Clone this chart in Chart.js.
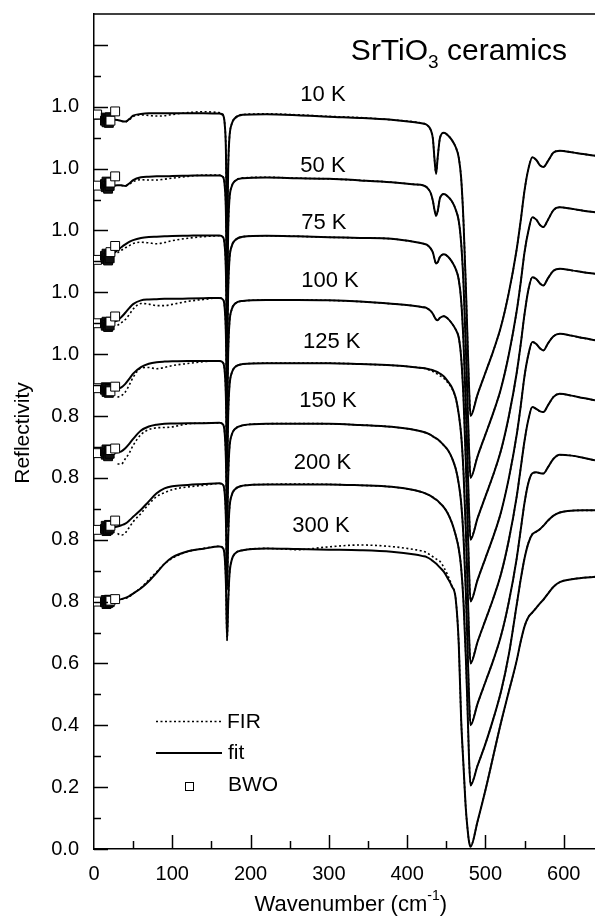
<!DOCTYPE html>
<html>
<head>
<meta charset="utf-8">
<script src="https://cdn.jsdelivr.net/npm/chart.js@4.4.0/dist/chart.umd.min.js"></script>
<style>html,body{margin:0;padding:0;background:#fff}canvas{display:block}</style>
</head>
<body>
<canvas id="chart" width="595" height="917"></canvas>
<script>
const FONT="'Liberation Sans', Arial, Helvetica, sans-serif";

// temperatures, top curve first, and the vertical shift each spectrum got
const temps=["10 K","50 K","75 K","100 K","125 K","150 K","200 K","300 K"];
const offsets=[1.4,1.2,1.0,0.8,0.6,0.4,0.2,0.0];

// wavenumber grid (cm-1) the curves were read on
const wn=[0,10,20,30,35,40,45,50,60,70,
  80,90,100,120,140,160,165,167,168.5,170,
  171.5,173,176,180,190,220,260,300,340,380,
  410,420,425,430,433,435,437,439,442,447,
  452,457,462,466,469,472,475,477,479,481,
  490,500,510,520,530,540,545,550,555,560,
  565,570,574,580,587,595,610,625,640];

// fitted reflectivity
const fit10=[0.961,0.962,0.960,0.957,0.954,0.952,0.960,0.971,0.977,0.979,
  0.979,0.979,0.979,0.979,0.979,0.978,0.972,0.943,0.860,0.560,
  0.810,0.900,0.945,0.963,0.974,0.976,0.973,0.968,0.964,0.958,
  0.950,0.946,0.942,0.926,0.895,0.830,0.783,0.835,0.900,0.916,
  0.908,0.893,0.870,0.835,0.770,0.630,0.420,0.260,0.100,0.000,
  0.070,0.140,0.210,0.290,0.400,0.540,0.630,0.730,0.800,0.837,
  0.828,0.810,0.805,0.825,0.852,0.858,0.853,0.847,0.842];
const fit50=[0.940,0.942,0.944,0.946,0.946,0.944,0.952,0.963,0.972,0.974,
  0.975,0.975,0.976,0.977,0.978,0.978,0.972,0.943,0.860,0.560,
  0.810,0.900,0.943,0.960,0.969,0.971,0.969,0.967,0.962,0.956,
  0.949,0.946,0.940,0.922,0.895,0.866,0.848,0.862,0.905,0.918,
  0.910,0.895,0.868,0.830,0.760,0.630,0.420,0.260,0.100,0.000,
  0.070,0.140,0.210,0.290,0.400,0.540,0.630,0.730,0.800,0.843,
  0.835,0.817,0.811,0.835,0.866,0.875,0.870,0.864,0.859];
const fit75=[0.903,0.908,0.918,0.936,0.946,0.955,0.963,0.969,0.976,0.979,
  0.980,0.981,0.982,0.983,0.984,0.984,0.978,0.949,0.865,0.600,
  0.815,0.905,0.950,0.968,0.980,0.983,0.981,0.978,0.976,0.973,
  0.963,0.958,0.954,0.942,0.928,0.908,0.893,0.897,0.915,0.923,
  0.916,0.900,0.876,0.840,0.775,0.640,0.430,0.270,0.100,0.000,
  0.070,0.140,0.210,0.290,0.400,0.540,0.630,0.730,0.810,0.849,
  0.843,0.828,0.822,0.846,0.870,0.876,0.871,0.865,0.860];
const fit100=[0.899,0.899,0.901,0.909,0.920,0.934,0.949,0.962,0.974,0.977,
  0.978,0.979,0.979,0.980,0.981,0.982,0.976,0.947,0.862,0.600,
  0.812,0.900,0.945,0.963,0.972,0.975,0.975,0.974,0.970,0.963,
  0.956,0.952,0.949,0.940,0.930,0.920,0.912,0.910,0.918,0.923,
  0.915,0.900,0.880,0.853,0.790,0.660,0.450,0.280,0.110,0.000,
  0.070,0.140,0.210,0.290,0.400,0.540,0.630,0.730,0.800,0.839,
  0.833,0.818,0.812,0.835,0.858,0.866,0.860,0.852,0.845];
const fit125=[0.889,0.889,0.889,0.889,0.893,0.904,0.920,0.937,0.958,0.969,
  0.974,0.976,0.977,0.978,0.978,0.978,0.972,0.943,0.860,0.620,
  0.810,0.895,0.940,0.958,0.968,0.971,0.971,0.971,0.968,0.964,
  0.958,0.955,0.953,0.950,0.948,0.946,0.944,0.942,0.937,0.928,
  0.912,0.893,0.860,0.805,0.740,0.620,0.430,0.270,0.100,0.000,
  0.070,0.140,0.210,0.290,0.400,0.540,0.630,0.720,0.790,0.829,
  0.823,0.815,0.813,0.835,0.862,0.872,0.866,0.858,0.851];
const fit150=[0.879,0.879,0.880,0.883,0.886,0.896,0.910,0.926,0.953,0.966,
  0.972,0.975,0.976,0.977,0.977,0.978,0.972,0.943,0.860,0.640,
  0.810,0.895,0.940,0.958,0.970,0.975,0.975,0.975,0.971,0.965,
  0.955,0.949,0.945,0.939,0.934,0.931,0.928,0.925,0.918,0.905,
  0.890,0.866,0.830,0.780,0.720,0.610,0.430,0.270,0.100,0.000,
  0.070,0.140,0.210,0.290,0.400,0.540,0.630,0.720,0.785,0.815,
  0.818,0.815,0.814,0.835,0.862,0.875,0.872,0.865,0.857];
const fit200=[0.831,0.833,0.838,0.843,0.847,0.852,0.862,0.874,0.897,0.924,
  0.950,0.966,0.973,0.977,0.980,0.983,0.977,0.948,0.865,0.640,
  0.815,0.900,0.945,0.963,0.975,0.979,0.979,0.979,0.976,0.971,
  0.960,0.953,0.948,0.942,0.937,0.933,0.930,0.926,0.918,0.905,
  0.885,0.856,0.815,0.770,0.710,0.600,0.420,0.270,0.100,0.005,
  0.070,0.140,0.220,0.310,0.430,0.590,0.670,0.740,0.790,0.818,
  0.826,0.835,0.845,0.862,0.878,0.888,0.894,0.895,0.895];
const fit300=[0.799,0.800,0.802,0.805,0.808,0.812,0.818,0.826,0.843,0.866,
  0.893,0.922,0.943,0.963,0.971,0.978,0.972,0.943,0.860,0.675,
  0.800,0.885,0.935,0.955,0.966,0.972,0.970,0.968,0.966,0.961,
  0.952,0.947,0.944,0.937,0.931,0.927,0.923,0.918,0.910,0.896,
  0.875,0.850,0.810,0.660,0.420,0.270,0.130,0.070,0.025,0.007,
  0.090,0.190,0.300,0.410,0.510,0.610,0.670,0.720,0.750,0.765,
  0.780,0.795,0.806,0.826,0.848,0.863,0.872,0.877,0.880];

// measured FIR reflectivity (same grid, none below ~30 cm-1)
const fir10=[null,null,null,null,0.953,0.951,0.958,0.968,0.974,0.972,
  0.970,0.971,0.975,0.981,0.984,0.981,0.974,0.945,0.862,0.560,
  0.810,0.900,0.945,0.963,0.975,0.977,0.974,0.969,0.965,0.958,
  0.951,0.947,0.942,0.926,0.895,0.830,0.785,0.835,0.900,0.916,
  0.908,0.893,0.870,0.835,0.770,0.630,0.420,0.260,0.100,0.005,
  0.070,0.140,0.210,0.290,0.400,0.540,0.630,0.730,0.800,0.837,
  0.828,0.810,0.805,0.825,0.852,0.858,0.853,0.847,0.842];
const fir50=[null,null,null,null,0.945,0.944,0.950,0.958,0.964,0.963,
  0.963,0.966,0.969,0.975,0.979,0.979,0.973,0.944,0.861,0.560,
  0.810,0.900,0.943,0.960,0.970,0.972,0.969,0.967,0.962,0.956,
  0.949,0.946,0.940,0.922,0.895,0.866,0.848,0.862,0.905,0.918,
  0.910,0.895,0.868,0.830,0.760,0.630,0.420,0.260,0.100,0.005,
  0.070,0.140,0.210,0.290,0.400,0.540,0.630,0.730,0.800,0.843,
  0.835,0.817,0.811,0.835,0.866,0.875,0.870,0.864,0.859];
const fir75=[null,null,null,0.928,0.936,0.944,0.951,0.958,0.962,0.960,
  0.957,0.961,0.967,0.975,0.980,0.983,0.977,0.948,0.864,0.600,
  0.815,0.905,0.950,0.968,0.980,0.983,0.981,0.978,0.976,0.973,
  0.963,0.958,0.954,0.942,0.928,0.908,0.893,0.897,0.915,0.923,
  0.916,0.900,0.876,0.840,0.775,0.640,0.430,0.270,0.100,0.005,
  0.070,0.140,0.210,0.290,0.400,0.540,0.630,0.730,0.810,0.849,
  0.843,0.828,0.822,0.846,0.870,0.876,0.871,0.865,0.860];
const fir100=[null,null,null,0.893,0.902,0.912,0.928,0.946,0.964,0.962,
  0.957,0.957,0.961,0.971,0.977,0.982,0.976,0.947,0.862,0.600,
  0.812,0.900,0.945,0.963,0.972,0.975,0.975,0.974,0.970,0.963,
  0.956,0.952,0.949,0.940,0.930,0.920,0.912,0.910,0.918,0.923,
  0.915,0.900,0.880,0.853,0.790,0.660,0.450,0.280,0.110,0.005,
  0.070,0.140,0.210,0.290,0.400,0.540,0.630,0.730,0.800,0.839,
  0.833,0.818,0.812,0.835,0.858,0.866,0.860,0.852,0.845];
const fir125=[null,null,null,0.861,0.866,0.878,0.900,0.925,0.955,0.957,
  0.953,0.957,0.963,0.970,0.976,0.978,0.972,0.943,0.860,0.620,
  0.810,0.895,0.940,0.958,0.968,0.971,0.971,0.971,0.968,0.964,
  0.958,0.955,0.952,0.947,0.944,0.941,0.938,0.935,0.930,0.922,
  0.908,0.890,0.858,0.805,0.740,0.620,0.430,0.270,0.100,0.005,
  0.070,0.140,0.210,0.290,0.400,0.540,0.630,0.720,0.790,0.829,
  0.823,0.815,0.813,0.835,0.862,0.872,0.866,0.858,0.851];
const fir150=[null,null,null,0.845,0.845,0.862,0.880,0.905,0.940,0.956,
  0.962,0.963,0.965,0.975,0.977,0.978,0.972,0.943,0.860,0.640,
  0.810,0.895,0.940,0.958,0.970,0.975,0.976,0.975,0.971,0.965,
  0.955,0.949,0.945,0.939,0.934,0.931,0.928,0.925,0.918,0.905,
  0.890,0.866,0.830,0.780,0.720,0.610,0.430,0.270,0.100,0.005,
  0.070,0.140,0.210,0.290,0.400,0.540,0.630,0.720,0.785,0.815,
  0.818,0.815,0.814,0.835,0.862,0.875,0.872,0.865,0.857];
const fir200=[null,null,null,0.820,0.815,0.822,0.840,0.858,0.885,0.915,
  0.940,0.952,0.962,0.971,0.976,0.982,0.977,0.948,0.865,0.640,
  0.815,0.900,0.945,0.963,0.975,0.979,0.980,0.979,0.976,0.971,
  0.960,0.953,0.948,0.942,0.937,0.933,0.930,0.926,0.918,0.905,
  0.885,0.856,0.815,0.770,0.710,0.600,0.420,0.270,0.100,0.010,
  0.070,0.140,0.220,0.310,0.430,0.590,0.670,0.740,0.790,0.818,
  0.826,0.835,0.845,0.862,0.878,0.888,0.894,0.895,0.895];
const fir300=[null,null,null,null,0.808,0.810,0.816,0.825,0.845,0.870,
  0.896,0.922,0.940,0.962,0.972,0.979,0.973,0.944,0.861,0.675,
  0.800,0.885,0.935,0.955,0.966,0.972,0.968,0.977,0.983,0.978,
  0.968,0.963,0.958,0.950,0.945,0.942,0.938,0.935,0.930,0.910,
  0.885,0.852,0.810,0.660,0.420,0.270,0.130,0.070,0.025,0.010,
  0.090,0.190,0.300,0.410,0.510,0.610,0.670,0.720,0.750,0.765,
  0.780,0.795,0.806,0.826,0.848,0.863,0.872,0.877,0.880];

// BWO points at the low-frequency end
const bwoWn=[4,14,15,16,17,18,19,20,21,27];
const bwo10=[0.975,0.955,0.965,0.950,0.962,0.958,0.948,0.966,0.955,0.985];
const bwo50=[0.945,0.950,0.940,0.958,0.945,0.935,0.952,0.944,0.955,0.975];
const bwo75=[0.905,0.918,0.908,0.925,0.912,0.903,0.920,0.910,0.930,0.950];
const bwo100=[0.900,0.900,0.892,0.905,0.895,0.888,0.900,0.893,0.905,0.922];
const bwo125=[0.890,0.885,0.893,0.878,0.890,0.882,0.875,0.888,0.880,0.895];
const bwo150=[0.880,0.885,0.875,0.892,0.880,0.870,0.888,0.878,0.890,0.895];
const bwo200=[0.832,0.835,0.845,0.828,0.840,0.832,0.848,0.836,0.845,0.862];
const bwo300=[0.800,0.798,0.805,0.792,0.800,0.795,0.806,0.798,0.803,0.808];

// axis ticks: the labels name each shifted curve's own reflectivity
const yTickVals=[0.0,0.2,0.4,0.6,0.8,1.0,1.2,1.4,1.6,1.8,2.0,2.2,2.4];
const yTickText=["0.0","0.2","0.4","0.6","0.8","0.8","0.8","0.8","1.0","1.0","1.0","1.0","1.0"];
const xTickVals=[0,100,200,300,400,500,600];

const fits=[fit10,fit50,fit75,fit100,fit125,fit150,fit200,fit300];
const firs=[fir10,fir50,fir75,fir100,fir125,fir150,fir200,fir300];
const bwos=[bwo10,bwo50,bwo75,bwo100,bwo125,bwo150,bwo200,bwo300];

// where the temperature captions sit (wavenumber, shifted reflectivity)
const captionAt=[[292.5,2.437],[292.5,2.209],[293.7,2.024],[301.4,1.837],
  [303.6,1.641],[298.8,1.448],[291.8,1.249],[289.9,1.044]];

const datasets=[];
temps.forEach((t,k)=>{
  const off=offsets[k];
  datasets.push({
    label:t+" BWO", order:0, showLine:false,
    data:bwoWn.map((w,i)=>({x:w,y:bwos[k][i]+off})),
    pointStyle:"rect", pointRadius:6.3, borderWidth:1,
    borderColor:"#000",
    // the dense middle of the BWO cluster prints as a dark block
    backgroundColor:bwoWn.map((w,i)=>(i===0||i>=bwoWn.length-2)?"#fff":"#111")
  });
  datasets.push({
    label:t+" fit", order:1,
    data:wn.map((w,i)=>({x:w,y:fits[k][i]+off})),
    borderColor:"#000", borderWidth:2, pointRadius:0,
    cubicInterpolationMode:"monotone"
  });
  datasets.push({
    label:t+" FIR", order:1,
    data:wn.map((w,i)=>({x:w,y:firs[k][i]===null?null:firs[k][i]+off})),
    borderColor:"#000", borderWidth:1.6, borderDash:[2,2.5], pointRadius:0,
    cubicInterpolationMode:"monotone", spanGaps:false
  });
});

const decor={
  id:"decor",
  afterDraw(chart){
    const ctx=chart.ctx, xs=chart.scales.x, ys=chart.scales.y, a=chart.chartArea;
    ctx.save();
    ctx.strokeStyle="#000"; ctx.fillStyle="#000"; ctx.lineWidth=1.5;
    // top frame line
    ctx.beginPath(); ctx.moveTo(a.left,a.top); ctx.lineTo(a.right,a.top); ctx.stroke();
    // inward ticks
    for(let i=0;i<=26;i++){
      const py=Math.round(ys.getPixelForValue(i/10))+0.5;
      const len=(i%2===0)?14:7;
      ctx.beginPath(); ctx.moveTo(a.left,py); ctx.lineTo(a.left+len,py); ctx.stroke();
    }
    for(let v=50;v<=600;v+=50){
      const px=Math.round(xs.getPixelForValue(v))+0.5;
      const len=(v%100===0)?14:8;
      ctx.beginPath(); ctx.moveTo(px,a.bottom); ctx.lineTo(px,a.bottom-len); ctx.stroke();
    }
    // temperature captions
    ctx.font="22px "+FONT; ctx.textAlign="center"; ctx.textBaseline="middle";
    temps.forEach((t,k)=>{
      ctx.fillText(t,xs.getPixelForValue(captionAt[k][0]),ys.getPixelForValue(captionAt[k][1]));
    });
    // title with subscript
    ctx.textAlign="left"; ctx.textBaseline="alphabetic";
    const big="30px "+FONT, small="19px "+FONT;
    ctx.font=big; const w1=ctx.measureText("SrTiO").width, w3=ctx.measureText(" ceramics").width;
    ctx.font=small; const w2=ctx.measureText("3").width;
    let tx=567-(w1+w2+w3);
    ctx.font=big; ctx.fillText("SrTiO",tx,60); tx+=w1;
    ctx.font=small; ctx.fillText("3",tx,68); tx+=w2;
    ctx.font=big; ctx.fillText(" ceramics",tx,60);
    // x axis title with superscript
    const f1="22px "+FONT, f2="14px "+FONT;
    ctx.font=f1; const s1=ctx.measureText("Wavenumber (cm").width, s3=ctx.measureText(")").width;
    ctx.font=f2; const s2=ctx.measureText("-1").width;
    let ax=447-(s1+s2+s3);
    ctx.font=f1; ctx.fillText("Wavenumber (cm",ax,911); ax+=s1;
    ctx.font=f2; ctx.fillText("-1",ax,900); ax+=s2;
    ctx.font=f1; ctx.fillText(")",ax,911);
    // y axis title
    ctx.save(); ctx.translate(23,433); ctx.rotate(-Math.PI/2);
    ctx.font="21px "+FONT; ctx.textAlign="center"; ctx.textBaseline="middle";
    ctx.fillText("Reflectivity",0,0); ctx.restore();
    // legend
    ctx.lineWidth=1.6; ctx.setLineDash([2,2.5]);
    ctx.beginPath(); ctx.moveTo(156,721.5); ctx.lineTo(222,721.5); ctx.stroke();
    ctx.setLineDash([]); ctx.lineWidth=2;
    ctx.beginPath(); ctx.moveTo(156,753); ctx.lineTo(222,753); ctx.stroke();
    ctx.lineWidth=1; ctx.strokeRect(185.5,782.5,8,8);
    ctx.font="21px "+FONT; ctx.textBaseline="middle";
    ctx.fillText("FIR",227,722.5); ctx.fillText("fit",228,753); ctx.fillText("BWO",228,785);
    ctx.restore();
  }
};

new Chart(document.getElementById("chart"),{
  type:"line",
  data:{datasets},
  options:{
    responsive:false, animation:false, devicePixelRatio:1,
    layout:{autoPadding:false,padding:{top:14,right:0,left:0,bottom:0}},
    plugins:{legend:{display:false},tooltip:{enabled:false}},
    scales:{
      x:{type:"linear",min:0,max:640,
        afterFit(s){s.height=68; s.paddingLeft=0; s.paddingRight=0;},
        grid:{display:false,drawTicks:false},
        border:{display:true,color:"#000",width:1.5},
        ticks:{stepSize:100,includeBounds:false,autoSkip:false,maxRotation:0,padding:13,
          color:"#000",font:{family:FONT,size:20},
          callback:v=>xTickVals.includes(v)?String(v):""}},
      y:{type:"linear",min:0,max:2.7,
        afterFit(s){s.width=94; s.paddingTop=0; s.paddingBottom=0;},
        grid:{display:false,drawTicks:false},
        border:{display:true,color:"#000",width:1.5},
        ticks:{stepSize:0.1,includeBounds:false,autoSkip:false,padding:15,
          color:"#000",font:{family:FONT,size:20},
          callback:v=>{const i=yTickVals.findIndex(t=>Math.abs(t-v)<1e-6);return i<0?"":yTickText[i];}}}
    }
  },
  plugins:[decor]
});
</script>
</body>
</html>
